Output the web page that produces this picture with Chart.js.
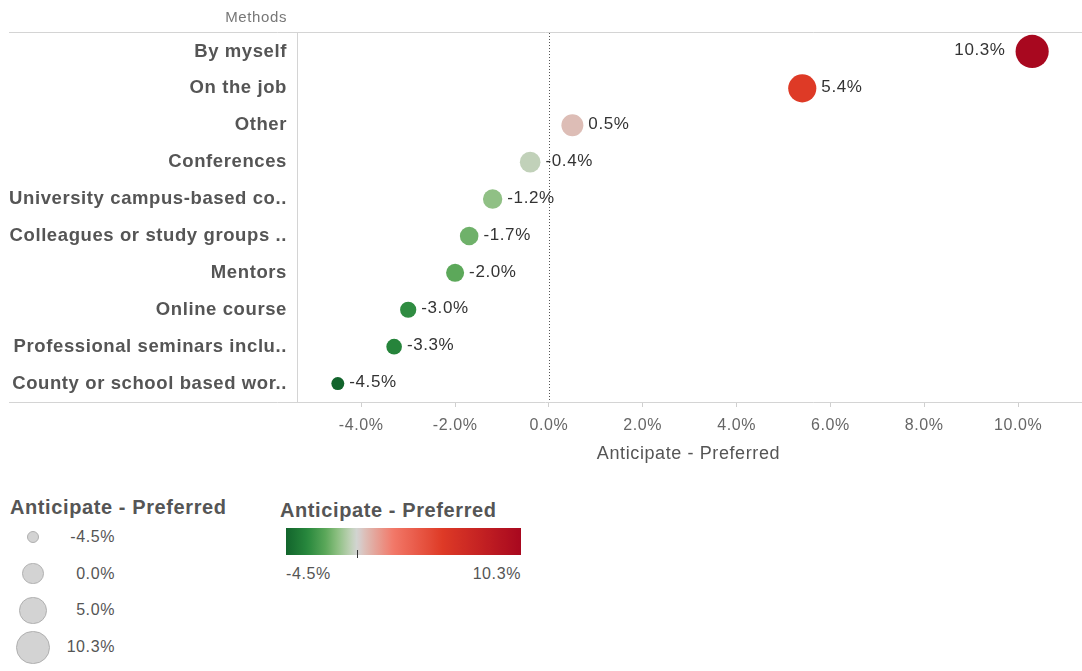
<!DOCTYPE html>
<html>
<head>
<meta charset="utf-8">
<script src="https://cdn.jsdelivr.net/npm/chart.js@4.4.1/dist/chart.umd.min.js"></script>
<style>
html,body{margin:0;padding:0;background:#fff;}
body{width:1082px;height:671px;position:relative;overflow:hidden;font-family:"Liberation Sans",Arial,sans-serif;letter-spacing:0.6px;}
#c{position:absolute;left:0;top:0;}
.lt{position:absolute;font-weight:bold;font-size:20px;color:#555;line-height:24px;white-space:nowrap;}
.ll{position:absolute;font-size:16px;color:#555;line-height:20px;white-space:nowrap;}
.dot{position:absolute;border-radius:50%;background:#d3d3d3;border:1px solid #b0b0b0;box-sizing:border-box;}
#bar{position:absolute;left:286px;top:528px;width:235px;height:27px;}
#tick{position:absolute;left:357px;top:550px;width:1px;height:8px;background:#333;}
</style>
</head>
<body>
<canvas id="c" width="1082" height="472"></canvas>
<div id="legend"></div>
<script>
// ---- data ----
const categories = [
  'By myself',
  'On the job',
  'Other',
  'Conferences',
  'University campus-based co..',
  'Colleagues or study groups ..',
  'Mentors',
  'Online course',
  'Professional seminars inclu..',
  'County or school based wor..'
];
const values = [10.3, 5.4, 0.5, -0.4, -1.2, -1.7, -2.0, -3.0, -3.3, -4.5];
const xTicks = [-4, -2, 0, 2, 4, 6, 8, 10];
const sizeLegendValues = [-4.5, 0.0, 5.0, 10.3];
const axisTitle = 'Anticipate - Preferred';
const rowHeader = 'Methods';
const legendTitle = 'Anticipate - Preferred';

// ---- encodings ----
const FONT = '"Liberation Sans", Arial, sans-serif';
const vMin = Math.min(...values), vMax = Math.max(...values);
const negStops = [[0,[212,212,212]],[0.1,[191,209,182]],[0.28,[140,191,129]],[0.45,[90,167,89]],[0.7,[40,136,61]],[1,[18,100,44]]];
const posStops = [[0,[212,212,212]],[0.05,[221,188,181]],[0.22,[242,120,104]],[0.52,[222,58,38]],[1,[168,8,31]]];
function interp(stops, t) {
  t = Math.max(0, Math.min(1, t));
  for (let i = 1; i < stops.length; i++) {
    if (t <= stops[i][0]) {
      const [t0, c0] = stops[i-1], [t1, c1] = stops[i];
      const f = (t - t0) / (t1 - t0);
      return 'rgb(' + c0.map((c, k) => Math.round(c + (c1[k] - c) * f)).join(',') + ')';
    }
  }
  return 'rgb(' + stops[stops.length-1][1].join(',') + ')';
}
function colorFor(v) { return v < 0 ? interp(negStops, v / vMin) : interp(posStops, v / vMax); }
function radiusFor(v) { return Math.sqrt(42 + (v - vMin) / (vMax - vMin) * (275 - 42)); }
const fmt = v => v.toFixed(1) + '%';

const spacing = {
  id: 'spacing',
  beforeUpdate(chart) { chart.ctx.letterSpacing = '0.6px'; },
  beforeDraw(chart) { chart.ctx.letterSpacing = '0.6px'; }
};

const frame = {
  id: 'frame',
  beforeDatasetsDraw(chart) {
    const {ctx, chartArea} = chart;
    const xs = chart.scales.x;
    ctx.save();
    ctx.strokeStyle = '#d4d4d4';
    ctx.lineWidth = 1;
    ctx.beginPath();
    ctx.moveTo(9, chartArea.top - 0.5); ctx.lineTo(chart.width, chartArea.top - 0.5);
    ctx.moveTo(9, chartArea.bottom + 0.5); ctx.lineTo(chart.width, chartArea.bottom + 0.5);
    ctx.moveTo(chartArea.left + 0.5, chartArea.top); ctx.lineTo(chartArea.left + 0.5, chartArea.bottom);
    ctx.stroke();
    const zx = Math.round(xs.getPixelForValue(0)) + 0.5;
    ctx.strokeStyle = '#555';
    ctx.setLineDash([1, 2]);
    ctx.beginPath();
    ctx.moveTo(zx, chartArea.top); ctx.lineTo(zx, chartArea.bottom);
    ctx.stroke();
    ctx.setLineDash([]);
    ctx.font = '15px ' + FONT;
    ctx.fillStyle = '#777';
    ctx.textAlign = 'right';
    ctx.textBaseline = 'middle';
    ctx.fillText(rowHeader, chartArea.left - 10, 18);
    ctx.restore();
  }
};

const dataLabels = {
  id: 'dataLabels',
  afterDatasetsDraw(chart) {
    const {ctx, chartArea} = chart;
    const meta = chart.getDatasetMeta(0);
    ctx.save();
    ctx.font = '17px ' + FONT;
    ctx.fillStyle = '#333';
    ctx.textBaseline = 'middle';
    meta.data.forEach((pt, i) => {
      const v = values[i], r = radiusFor(v), text = fmt(v);
      const w = ctx.measureText(text).width;
      if (pt.x + r + 5 + w > chartArea.right - 20) {
        ctx.textAlign = 'right';
        ctx.fillText(text, pt.x - r - 10, pt.y - 1);
      } else {
        ctx.textAlign = 'left';
        ctx.fillText(text, pt.x + r + 5, pt.y - 1);
      }
    });
    ctx.restore();
  }
};

new Chart(document.getElementById('c'), {
  type: 'scatter',
  data: {
    datasets: [{
      data: categories.map((c, i) => ({x: values[i], y: c})),
      pointRadius: ctx => radiusFor(values[ctx.dataIndex]),
      pointHoverRadius: ctx => radiusFor(values[ctx.dataIndex]),
      pointBackgroundColor: ctx => colorFor(values[ctx.dataIndex]),
      pointBorderWidth: 0,
      pointHoverBorderWidth: 0
    }]
  },
  options: {
    responsive: false,
    animation: false,
    devicePixelRatio: 1,
    events: [],
    layout: {autoPadding: false, padding: {top: 33, left: 0, right: 2, bottom: 7}},
    plugins: {legend: {display: false}, tooltip: {enabled: false}},
    scales: {
      x: {
        type: 'linear', min: -5.37, max: 11.32,
        afterBuildTicks: s => { s.ticks = xTicks.map(v => ({value: v})); },
        afterFit: s => { s.height = 63; s.paddingLeft = 0; s.paddingRight = 0; },
        grid: {drawOnChartArea: false, drawTicks: true, tickLength: 5, tickColor: '#cfcfcf', color: '#cfcfcf'},
        border: {display: false},
        ticks: {padding: 9, color: '#666', font: {family: FONT, size: 16}, callback: v => fmt(v), maxRotation: 0, autoSkip: false},
        title: {display: true, text: axisTitle, color: '#555', font: {family: FONT, size: 18}, padding: {top: 0, bottom: 0}}
      },
      y: {
        type: 'category', labels: categories, offset: true,
        afterFit: s => { s.width = 297; s.paddingTop = 0; s.paddingBottom = 0; },
        grid: {display: false, drawTicks: false},
        border: {display: false},
        ticks: {padding: 10, color: '#555', font: {family: FONT, size: 18.5, weight: 'bold'}, autoSkip: false}
      }
    }
  },
  plugins: [spacing, frame, dataLabels]
});

// ---- legends (HTML) ----
const lg = document.getElementById('legend');
function add(html) { lg.insertAdjacentHTML('beforeend', html); }
add('<div class="lt" style="left:10px;top:495px;">' + legendTitle + '</div>');
sizeLegendValues.forEach((v, i) => {
  const cy = 537 + i * 36.7, r = radiusFor(v);
  add('<div class="dot" style="left:' + (33 - r) + 'px;top:' + (cy - r) + 'px;width:' + (2*r) + 'px;height:' + (2*r) + 'px;"></div>');
  add('<div class="ll" style="left:55px;width:60px;text-align:right;top:' + (cy - 10) + 'px;">' + fmt(v) + '</div>');
});
add('<div class="lt" style="left:280px;top:498px;">' + legendTitle + '</div>');
const stops = [];
for (let k = 0; k <= 60; k++) {
  const v = vMin + (vMax - vMin) * k / 60;
  stops.push(colorFor(v) + ' ' + (k / 60 * 100).toFixed(2) + '%');
}
add('<div id="bar" style="background:linear-gradient(to right,' + stops.join(',') + ');"></div>');
const zeroPos = 286 + (0 - vMin) / (vMax - vMin) * 235;
add('<div id="tick" style="left:' + Math.round(zeroPos) + 'px;"></div>');
add('<div class="ll" style="left:286px;top:564px;">' + fmt(vMin) + '</div>');
add('<div class="ll" style="left:421px;width:100px;text-align:right;top:564px;">' + fmt(vMax) + '</div>');
</script>
</body>
</html>
